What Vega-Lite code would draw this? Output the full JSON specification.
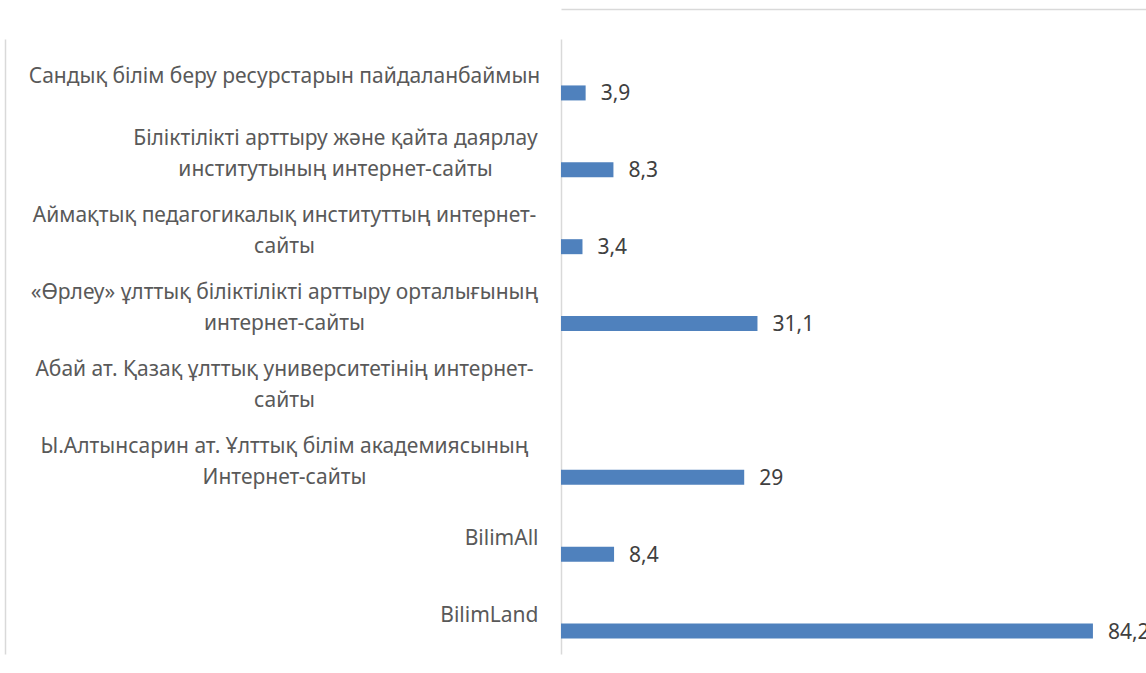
{
  "$schema": "https://vega.github.io/schema/vega-lite/v6.json",
  "autosize": {"type": "none"},
  "padding": {"left": 561, "top": 39, "right": 0, "bottom": 19},
  "width": 585,
  "height": 615,
  "background": "white",
  "config": {
    "view": {"stroke": null},
    "locale": {"number": {"decimal": ",", "thousands": " ", "grouping": [3], "currency": ["", ""]}},
    "font": "Noto Sans"
  },
  "data": {
    "values": [
      {"category": "Сандық білім беру ресурстарын пайдаланбаймын", "value": 3.9},
      {"category": "Біліктілікті арттыру және қайта даярлау\nинститутының интернет-сайты", "value": 8.3},
      {"category": "Аймақтық педагогикалық институттың интернет-\nсайты", "value": 3.4},
      {"category": "«Өрлеу» ұлттық біліктілікті арттыру орталығының\nинтернет-сайты", "value": 31.1},
      {"category": "Абай ат. Қазақ ұлттық университетінің интернет-\nсайты", "value": null},
      {"category": "Ы.Алтынсарин ат. Ұлттық білім академиясының\nИнтернет-сайты", "value": 29},
      {"category": "BilimAll", "value": 8.4},
      {"category": "BilimLand", "value": 84.2}
    ]
  },
  "encoding": {
    "x": {
      "field": "value",
      "type": "quantitative",
      "scale": {"domain": [0, 92.6], "nice": false, "zero": true},
      "axis": {
        "orient": "top",
        "offset": 30,
        "title": null,
        "labels": false,
        "ticks": false,
        "grid": false,
        "domainColor": "#d9d9d9",
        "domainWidth": 1.5
      }
    }
  },
  "layer": [
    {
      "mark": {"type": "bar", "height": 15, "yOffset": 15.5, "color": "#4F81BD"},
      "encoding": {
        "y": {
          "field": "category",
          "type": "nominal",
          "sort": null,
          "scale": {
            "paddingInner": 0,
            "paddingOuter": 0,
            "domain": [
              "Сандық білім беру ресурстарын пайдаланбаймын",
              "Біліктілікті арттыру және қайта даярлау\nинститутының интернет-сайты",
              "Аймақтық педагогикалық институттың интернет-\nсайты",
              "«Өрлеу» ұлттық біліктілікті арттыру орталығының\nинтернет-сайты",
              "Абай ат. Қазақ ұлттық университетінің интернет-\nсайты",
              "Ы.Алтынсарин ат. Ұлттық білім академиясының\nИнтернет-сайты",
              "BilimAll",
              "BilimLand"
            ]
          },
          "axis": {
            "orient": "left",
            "title": null,
            "ticks": false,
            "grid": false,
            "domainColor": "#d9d9d9",
            "domainWidth": 1.5,
            "labelExpr": "split(datum.label, '\\n')",
            "labelFont": "Noto Sans",
            "labelFontSize": 21,
            "labelColor": "#595959",
            "labelLineHeight": 31,
            "labelLimit": 0,
            "labelAlign": {"condition": {"test": "indexof(datum.value, 'Bilim') === 0", "value": "right"}, "value": "center"},
            "labelOffset": {"condition": {"test": "indexof(datum.value, '\\n') >= 0", "value": -15}, "value": 0},
            "labelPadding": {
              "condition": [
                {"test": "indexof(datum.value, 'Bilim') === 0", "value": 23},
                {"test": "indexof(datum.value, 'Біліктілікті') === 0", "value": 226}
              ],
              "value": 277
            }
          }
        }
      }
    },
    {
      "mark": {"type": "text", "align": "left", "baseline": "middle", "dx": 15, "yOffset": 17, "fontSize": 21, "color": "#404040", "font": "Noto Sans"},
      "encoding": {
        "y": {
          "field": "category",
          "type": "nominal",
          "sort": null,
          "axis": {
            "orient": "left",
            "offset": 556,
            "title": null,
            "labels": false,
            "ticks": false,
            "grid": false,
            "domainColor": "#d9d9d9",
            "domainWidth": 1.5
          }
        },
        "text": {"field": "value", "type": "quantitative", "format": ".1~f"}
      }
    }
  ],
  "resolve": {"axis": {"y": "independent"}}
}
